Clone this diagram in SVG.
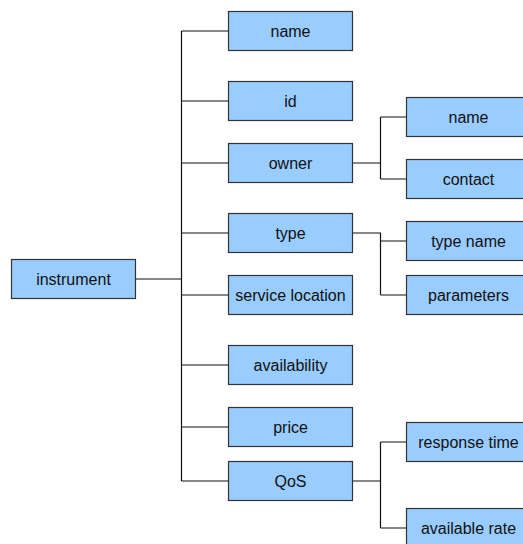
<svg xmlns="http://www.w3.org/2000/svg" width="523" height="544" viewBox="0 0 523 544">
<style>
.box rect{fill:#99ccff;stroke:#333;stroke-width:1.2}
.box text{font-family:"Liberation Sans",Arial,sans-serif;font-size:16px;fill:#111;text-anchor:middle;dominant-baseline:central}
#connectors path{fill:none;stroke:#111;stroke-width:1.2}
</style>
<rect width="523" height="544" fill="#fff"/>
<g id="connectors">
<path d="M136 279H181.5"/>
<path d="M181.5 31V481"/>
<path d="M181.5 31H228.5M181.5 101H228.5M181.5 163H228.5M181.5 233H228.5M181.5 295H228.5M181.5 365H228.5M181.5 427H228.5M181.5 481H228.5"/>
<path d="M352.5 163H380.5M380.5 117V179M380.5 117H406.5M380.5 179H406.5"/>
<path d="M352.5 233H380.5V295M380.5 241H406.5M380.5 295H406.5"/>
<path d="M352.5 481H380.5M380.5 442V528M380.5 442H406.5M380.5 528H406.5"/>
</g>
<g id="instrument" class="box"><rect x="11.5" y="259.5" width="124" height="39"/><text x="73.5" y="279">instrument</text></g>
<g id="name" class="box"><rect x="228.5" y="11.5" width="124" height="39"/><text x="290.5" y="31">name</text></g>
<g id="id" class="box"><rect x="228.5" y="81.5" width="124" height="39"/><text x="290.5" y="101">id</text></g>
<g id="owner" class="box"><rect x="228.5" y="143.5" width="124" height="39"/><text x="290.5" y="163">owner</text></g>
<g id="type" class="box"><rect x="228.5" y="213.5" width="124" height="39"/><text x="290.5" y="233">type</text></g>
<g id="service-location" class="box"><rect x="228.5" y="275.5" width="124" height="39"/><text x="290.5" y="295">service location</text></g>
<g id="availability" class="box"><rect x="228.5" y="345.5" width="124" height="39"/><text x="290.5" y="365">availability</text></g>
<g id="price" class="box"><rect x="228.5" y="407.5" width="124" height="39"/><text x="290.5" y="427">price</text></g>
<g id="qos" class="box"><rect x="228.5" y="461.5" width="124" height="39"/><text x="290.5" y="481">QoS</text></g>
<g id="owner-name" class="box"><rect x="406.5" y="97.5" width="124" height="39"/><text x="468.5" y="117">name</text></g>
<g id="owner-contact" class="box"><rect x="406.5" y="159.5" width="124" height="39"/><text x="468.5" y="179">contact</text></g>
<g id="type-name" class="box"><rect x="406.5" y="221.5" width="124" height="39"/><text x="468.5" y="241">type name</text></g>
<g id="type-parameters" class="box"><rect x="406.5" y="275.5" width="124" height="39"/><text x="468.5" y="295">parameters</text></g>
<g id="response-time" class="box"><rect x="406.5" y="422.5" width="124" height="39"/><text x="468.5" y="442">response time</text></g>
<g id="available-rate" class="box"><rect x="406.5" y="508.5" width="124" height="39"/><text x="468.5" y="528">available rate</text></g>
</svg>
